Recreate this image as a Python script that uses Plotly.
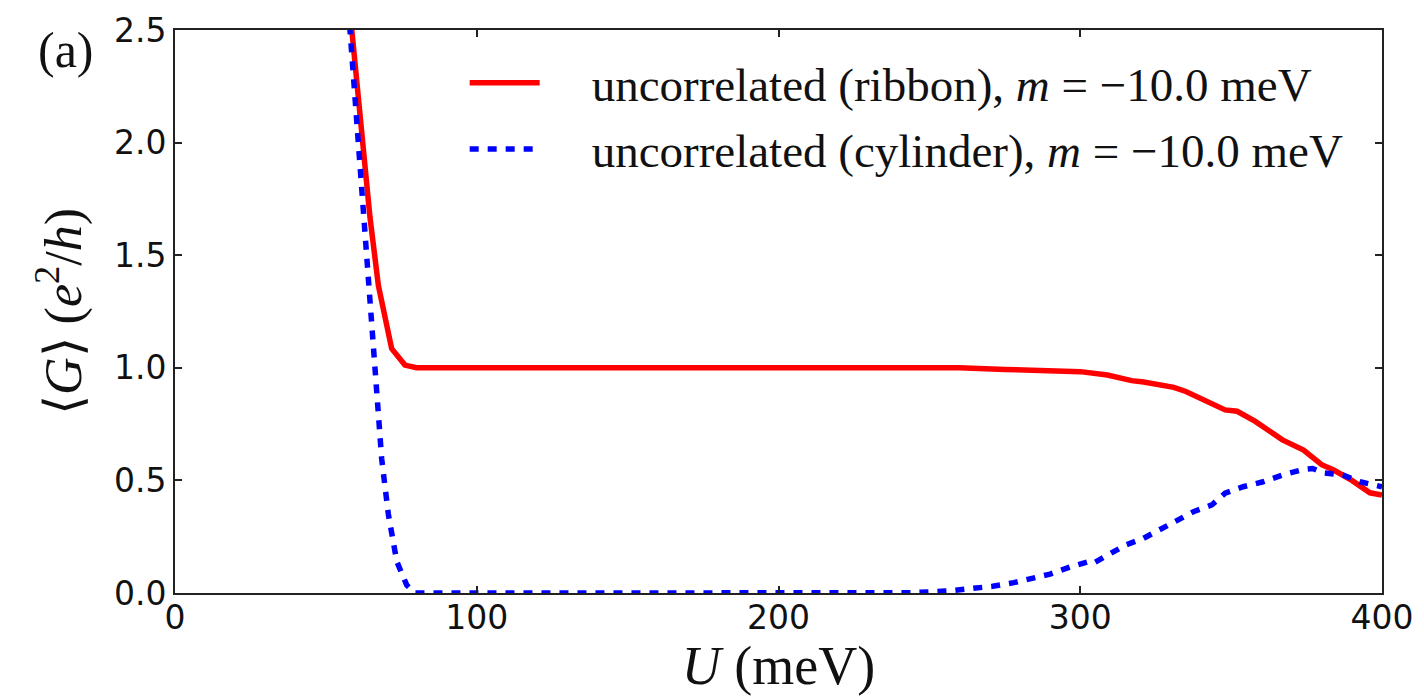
import plotly.graph_objects as go

# ribbon (red solid)
ribbon_U = [57, 58.5, 61.9, 64.6, 67.4, 71.8, 76.2, 80, 100, 150, 200, 240, 260,
            275, 287, 300, 309, 317, 321, 331, 335, 342, 348, 352, 358, 367,
            374, 380, 384, 390, 396, 400]
ribbon_G = [2.72, 2.5, 2.0, 1.67, 1.365, 1.085, 1.012, 1.0, 1.0, 1.0, 1.0, 1.0, 1.0,
            0.993, 0.987, 0.983, 0.968, 0.943, 0.937, 0.913, 0.895, 0.85, 0.813, 0.807,
            0.762, 0.68, 0.635, 0.57, 0.546, 0.5, 0.445, 0.435]

# cylinder (blue dotted)
cyl_U = [57, 58, 59.7, 61.3, 63, 64.6, 66.3, 68.5, 70.7, 73.5, 76.8, 79.5, 100, 200,
         244, 257, 265, 271, 278, 284, 290, 297, 302.7, 304.3, 309, 315, 321, 326,
         332, 337.5, 343.6, 348, 354, 360.6, 367, 374, 377, 380.5, 387, 392.7, 400]
cyl_G = [2.68, 2.5, 2.19, 1.89, 1.595, 1.28, 0.946, 0.595, 0.35, 0.14, 0.035, 0.0, 0.0, 0.0,
         0.001, 0.01, 0.02, 0.03, 0.046, 0.065, 0.084, 0.117, 0.139, 0.132, 0.169, 0.213,
         0.243, 0.28, 0.324, 0.361, 0.391, 0.443, 0.472, 0.494, 0.524, 0.549, 0.553,
         0.534, 0.524, 0.494, 0.472]

x_ticks = [0, 100, 200, 300, 400]
y_ticks = [0.0, 0.5, 1.0, 1.5, 2.0, 2.5]
y_tick_text = ["0.0", "0.5", "1.0", "1.5", "2.0", "2.5"]

pad = "\u00a0" * 4
names = [pad + "uncorrelated (ribbon), <i>m</i> = \u221210.0 meV",
         pad + "uncorrelated (cylinder), <i>m</i> = \u221210.0 meV"]

fig = go.Figure()
fig.add_trace(go.Scatter(x=ribbon_U, y=ribbon_G, mode="lines", name=names[0],
                         legendgroup="a",
                         line=dict(color="#ff0000", width=5.5)))
fig.add_trace(go.Scatter(x=cyl_U, y=cyl_G, mode="lines", name=names[1],
                         legendgroup="b",
                         line=dict(color="#0000ff", width=5.5, dash="9px,9px")))

axis_common = dict(showline=True, linecolor="#222", linewidth=2, mirror="ticks",
                   ticks="inside", ticklen=7, tickwidth=1.5, tickcolor="#222",
                   showgrid=False, zeroline=False,
                   tickfont=dict(family="DejaVu Sans", size=33, color="#111"))

fig.update_xaxes(range=[0, 400], tickvals=x_ticks, ticklabelstandoff=-6, **axis_common,
                 title=dict(text="<i>U</i> (meV)",
                            font=dict(family="Liberation Serif", size=54, color="#111"),
                            standoff=8))
fig.update_yaxes(range=[0, 2.5], tickvals=y_ticks, ticktext=y_tick_text, **axis_common,
                 title=dict(text="\u27e8<i>G</i>\u27e9 (<i>e</i><sup>2</sup>/<i>h</i>)",
                            font=dict(family="Liberation Serif", size=52, color="#111"),
                            standoff=16))

fig.add_annotation(text="(a)", xref="paper", yref="paper", x=-0.09, y=0.965,
                   xanchor="center", yanchor="middle", showarrow=False,
                   font=dict(family="Liberation Serif", size=50, color="#111"))

fig.update_layout(
    width=1424, height=696,
    margin=dict(l=175, r=42, t=30, b=103, autoexpand=False),
    paper_bgcolor="white", plot_bgcolor="white",
    showlegend=True,
    legend=dict(x=0.24, y=0.972, xanchor="left", yanchor="top",
                bgcolor="rgba(0,0,0,0)", itemwidth=70, tracegroupgap=2,
                font=dict(family="Liberation Serif", size=47, color="#111")),
)

fig.write_html("out.html")
